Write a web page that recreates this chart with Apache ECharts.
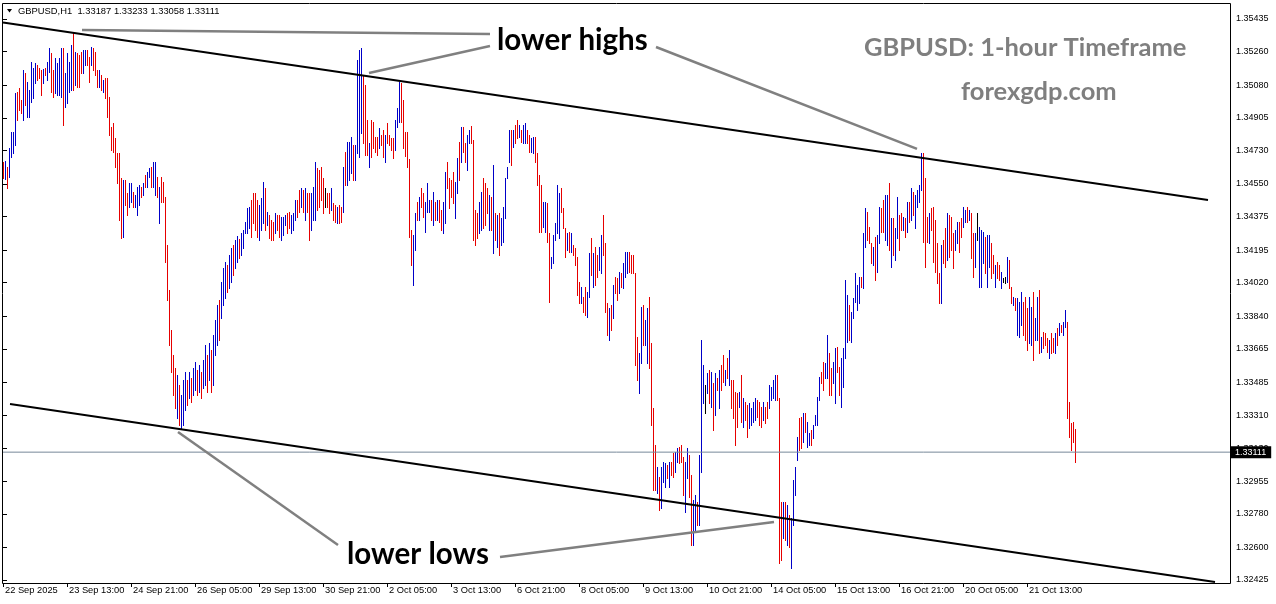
<!DOCTYPE html>
<html><head><meta charset="utf-8">
<script src="https://cdn.jsdelivr.net/npm/echarts@6/dist/echarts.min.js"></script>
<style>html,body{margin:0;padding:0;background:#fff}#c{width:1276px;height:604px}</style>
</head><body><div id="c"></div>
<script>
const symbolName = 'GBPUSD,H1';
const lastBar = [1.33187, 1.33233, 1.33058, 1.33111]; // open high low close
const barsPerLabel = 32;
const xTickLabels = ['22 Sep 2025','23 Sep 13:00','24 Sep 21:00','26 Sep 05:00','29 Sep 13:00','30 Sep 21:00','2 Oct 05:00','3 Oct 13:00','6 Oct 21:00','8 Oct 05:00','9 Oct 13:00','10 Oct 21:00','14 Oct 05:00','15 Oct 13:00','16 Oct 21:00','20 Oct 05:00','21 Oct 13:00'];
const yTickLabels = ['1.32425','1.32600','1.32780','1.32955','1.33130','1.33310','1.33485','1.33665','1.33840','1.34020','1.34195','1.34375','1.34550','1.34730','1.34905','1.35080','1.35260','1.35435'];

const highs = [1.34668,1.34673,1.34641,1.34743,1.34829,1.34829,1.35038,1.35043,1.35065,1.35000,
1.35161,1.35145,1.35097,1.35054,1.35204,1.35172,1.35199,1.35188,1.35172,1.35161,
1.35167,1.35172,1.35204,1.35280,1.35253,1.35161,1.35226,1.35199,1.35226,1.35280,
1.35280,1.35145,1.35253,1.35204,1.35296,1.35360,1.35258,1.35253,1.35242,1.35258,
1.35269,1.35269,1.35269,1.35231,1.35285,1.35280,1.35258,1.35161,1.35161,1.35135,
1.35108,1.35118,1.35118,1.35017,1.34855,1.34877,1.34797,1.34716,1.34716,1.34582,
1.34571,1.34571,1.34501,1.34555,1.34555,1.34507,1.34491,1.34534,1.34544,1.34534,
1.34555,1.34598,1.34614,1.34636,1.34641,1.34668,1.34668,1.34587,1.34534,1.34587,
1.34560,1.34480,1.34222,1.33981,1.33766,1.33632,1.33562,1.33525,1.33471,1.33418,
1.33498,1.33541,1.33498,1.33541,1.33509,1.33562,1.33595,1.33552,1.33579,1.33541,
1.33605,1.33686,1.33632,1.33697,1.33659,1.33740,1.33820,1.33901,1.33927,1.34024,
1.34099,1.34131,1.34115,1.34169,1.34206,1.34222,1.34249,1.34271,1.34255,1.34287,
1.34303,1.34346,1.34421,1.34426,1.34464,1.34501,1.34501,1.34464,1.34437,1.34475,
1.34560,1.34528,1.34400,1.34383,1.34357,1.34346,1.34394,1.34383,1.34383,1.34373,
1.34373,1.34383,1.34394,1.34400,1.34383,1.34394,1.34464,1.34464,1.34518,1.34528,
1.34518,1.34528,1.34501,1.34501,1.34501,1.34534,1.34668,1.34636,1.34625,1.34641,
1.34582,1.34528,1.34501,1.34501,1.34528,1.34448,1.34437,1.34426,1.34437,1.34426,
1.34641,1.34721,1.34775,1.34775,1.34802,1.34759,1.34759,1.35215,1.35269,1.35280,
1.35135,1.35081,1.34893,1.34770,1.34893,1.34882,1.34802,1.34802,1.34850,1.34813,
1.34840,1.34813,1.34877,1.34813,1.34797,1.34797,1.34893,1.34958,1.35097,1.35092,
1.35000,1.34829,1.34829,1.34684,1.34303,1.34276,1.34394,1.34453,1.34480,1.34528,
1.34501,1.34453,1.34555,1.34464,1.34464,1.34507,1.34453,1.34464,1.34464,1.34410,
1.34453,1.34614,1.34668,1.34582,1.34571,1.34614,1.34560,1.34689,1.34775,1.34856,
1.34856,1.34770,1.34813,1.34840,1.34861,1.34786,1.34410,1.34394,1.34453,1.34507,
1.34582,1.34555,1.34528,1.34491,1.34480,1.34652,1.34394,1.34383,1.34394,1.34367,
1.34426,1.34582,1.34641,1.34840,1.34840,1.34840,1.34866,1.34893,1.34866,1.34840,
1.34866,1.34877,1.34840,1.34813,1.34797,1.34802,1.34802,1.34716,1.34598,1.34544,
1.34453,1.34453,1.34448,1.34287,1.34158,1.34276,1.34340,1.34544,1.34501,1.34528,
1.34421,1.34314,1.34287,1.34292,1.34287,1.34222,1.34206,1.34158,1.34024,1.33997,
1.33943,1.33997,1.33970,1.34180,1.34260,1.34180,1.34212,1.34169,1.34212,1.34276,
1.34383,1.34233,1.33911,1.33884,1.33901,1.34008,1.34051,1.34045,1.34078,1.34072,
1.34126,1.34185,1.34185,1.34185,1.34169,1.34169,1.34072,1.33729,1.33643,1.33890,
1.33901,1.33820,1.33884,1.33943,1.33697,1.33348,1.33149,1.33031,1.32978,1.33031,
1.33058,1.33053,1.33042,1.33058,1.33058,1.33106,1.33112,1.33133,1.33139,1.33149,
1.33085,1.33058,1.33133,1.33096,1.32988,1.32854,1.32881,1.32844,1.33096,1.33713,
1.33579,1.33471,1.33536,1.33552,1.33541,1.33482,1.33536,1.33509,1.33552,1.33579,
1.33632,1.33552,1.33616,1.33659,1.33498,1.33498,1.33434,1.33428,1.33434,1.33525,
1.33402,1.33380,1.33364,1.33375,1.33348,1.33380,1.33402,1.33391,1.33380,1.33353,
1.33380,1.33353,1.33380,1.33471,1.33460,1.33498,1.33525,1.33525,1.33402,1.32844,
1.32844,1.32844,1.32827,1.32774,1.32758,1.32962,1.33031,1.33192,1.33294,1.33300,
1.33321,1.33321,1.33273,1.33214,1.33230,1.33257,1.33310,1.33407,1.33514,1.33541,
1.33595,1.33589,1.33740,1.33643,1.33562,1.33595,1.33670,1.33675,1.33568,1.33616,
1.33670,1.34035,1.33954,1.33901,1.33863,1.33938,1.34072,1.34008,1.34051,1.34051,
1.34287,1.34421,1.34400,1.34319,1.34233,1.34212,1.34265,1.34276,1.34426,1.34421,
1.34464,1.34491,1.34491,1.34555,1.34367,1.34367,1.34314,1.34480,1.34383,1.34394,
1.34373,1.34367,1.34453,1.34453,1.34528,1.34507,1.34491,1.34518,1.34544,1.34716,
1.34716,1.34582,1.34373,1.34394,1.34421,1.34426,1.34357,1.34233,1.34072,1.34222,
1.34249,1.34314,1.34394,1.34383,1.34373,1.34287,1.34303,1.34346,1.34346,1.34367,
1.34426,1.34410,1.34426,1.34410,1.34394,1.34287,1.34287,1.34394,1.34319,1.34303,
1.34292,1.34265,1.34276,1.34276,1.34233,1.34169,1.34115,1.34131,1.34115,1.34078,
1.34045,1.34051,1.34158,1.34142,1.33997,1.33943,1.33938,1.33938,1.33917,1.33970,
1.33917,1.33943,1.33884,1.33943,1.33890,1.33970,1.33831,1.33943,1.33981,1.33729,
1.33756,1.33750,1.33724,1.33713,1.33750,1.33724,1.33750,1.33777,1.33804,1.33793,
1.33809,1.33874,1.33809,1.33380,1.33267,1.33273,1.33233];

const lows = [1.34582,1.34577,1.34528,1.34587,1.34695,1.34716,1.34759,1.34893,1.34947,1.34931,
1.34893,1.34974,1.34909,1.34909,1.34990,1.35011,1.35092,1.35108,1.35118,1.35027,
1.35092,1.35135,1.35108,1.35151,1.35043,1.35017,1.35038,1.35027,1.35027,1.35017,
1.34866,1.34963,1.34984,1.35043,1.35054,1.35054,1.35081,1.35070,1.35070,1.35145,
1.35145,1.35188,1.35188,1.35097,1.35188,1.35161,1.35135,1.35070,1.35070,1.35054,
1.35043,1.35011,1.34909,1.34813,1.34732,1.34721,1.34641,1.34555,1.34357,1.34260,
1.34265,1.34437,1.34383,1.34426,1.34453,1.34426,1.34426,1.34383,1.34437,1.34480,
1.34491,1.34534,1.34534,1.34587,1.34534,1.34534,1.34491,1.34480,1.34340,1.34453,
1.34453,1.34131,1.33927,1.33686,1.33541,1.33418,1.33348,1.33294,1.33257,1.33241,
1.33257,1.33337,1.33364,1.33402,1.33380,1.33418,1.33445,1.33418,1.33434,1.33402,
1.33455,1.33471,1.33434,1.33498,1.33434,1.33471,1.33632,1.33686,1.33713,1.33831,
1.33901,1.33938,1.33970,1.33992,1.34024,1.34061,1.34099,1.34131,1.34153,1.34169,
1.34206,1.34287,1.34287,1.34314,1.34265,1.34340,1.34303,1.34265,1.34249,1.34303,
1.34340,1.34303,1.34330,1.34260,1.34249,1.34249,1.34287,1.34303,1.34265,1.34249,
1.34276,1.34330,1.34287,1.34314,1.34287,1.34303,1.34357,1.34373,1.34400,1.34426,
1.34400,1.34357,1.34400,1.34249,1.34303,1.34357,1.34357,1.34410,1.34426,1.34464,
1.34394,1.34426,1.34426,1.34394,1.34410,1.34357,1.34346,1.34340,1.34340,1.34346,
1.34400,1.34544,1.34544,1.34571,1.34609,1.34571,1.34571,1.34716,1.34695,1.34823,
1.34770,1.34705,1.34705,1.34641,1.34695,1.34743,1.34721,1.34705,1.34743,1.34759,
1.34695,1.34668,1.34770,1.34759,1.34732,1.34689,1.34732,1.34856,1.34882,1.34882,
1.34743,1.34700,1.34641,1.34265,1.34115,1.34008,1.34196,1.34357,1.34357,1.34426,
1.34373,1.34292,1.34400,1.34400,1.34357,1.34330,1.34357,1.34357,1.34346,1.34303,
1.34287,1.34340,1.34528,1.34421,1.34480,1.34448,1.34367,1.34501,1.34571,1.34668,
1.34721,1.34668,1.34625,1.34770,1.34770,1.34249,1.34222,1.34260,1.34287,1.34303,
1.34314,1.34330,1.34394,1.34303,1.34303,1.34180,1.34249,1.34212,1.34169,1.34222,
1.34239,1.34367,1.34582,1.34668,1.34652,1.34748,1.34770,1.34797,1.34802,1.34775,
1.34770,1.34770,1.34770,1.34721,1.34721,1.34716,1.34668,1.34544,1.34292,1.34292,
1.34319,1.34292,1.34239,1.33917,1.34099,1.34126,1.34249,1.34287,1.34260,1.34400,
1.34314,1.34158,1.34196,1.34185,1.34185,1.34169,1.34115,1.33954,1.33911,1.33911,
1.33863,1.33847,1.33836,1.33943,1.34061,1.33997,1.34008,1.34051,1.34088,1.34072,
1.34169,1.33863,1.33740,1.33713,1.33766,1.33831,1.33965,1.33927,1.33965,1.33997,
1.33992,1.34051,1.34072,1.34078,1.34072,1.34072,1.33579,1.33498,1.33428,1.33589,
1.33686,1.33686,1.33589,1.33562,1.33257,1.32908,1.32908,1.32892,1.32801,1.32811,
1.32951,1.32924,1.32972,1.32924,1.32988,1.32978,1.33005,1.33058,1.33053,1.33058,
1.32881,1.32790,1.32972,1.32870,1.32613,1.32613,1.32683,1.32720,1.32720,1.33005,
1.33375,1.33321,1.33428,1.33375,1.33353,1.33230,1.33310,1.33445,1.33348,1.33445,
1.33487,1.33471,1.33509,1.33471,1.33348,1.33294,1.33149,1.33246,1.33353,1.33273,
1.33246,1.33284,1.33192,1.33241,1.33257,1.33273,1.33284,1.33300,1.33257,1.33246,
1.33284,1.33267,1.33294,1.33348,1.33391,1.33402,1.33391,1.33391,1.32516,1.32532,
1.32650,1.32640,1.32613,1.32602,1.32489,1.32720,1.32881,1.33069,1.33123,1.33133,
1.33165,1.33219,1.33139,1.33149,1.33149,1.33187,1.33257,1.33257,1.33391,1.33482,
1.33445,1.33509,1.33509,1.33418,1.33418,1.33482,1.33375,1.33541,1.33418,1.33353,
1.33460,1.33616,1.33702,1.33713,1.33702,1.33831,1.33917,1.33874,1.33911,1.33997,
1.33992,1.34212,1.34249,1.34233,1.34126,1.34115,1.34035,1.34078,1.34233,1.34292,
1.34292,1.34249,1.34222,1.34196,1.34104,1.34169,1.34142,1.34260,1.34196,1.34303,
1.34303,1.34265,1.34292,1.34346,1.34357,1.34383,1.34314,1.34426,1.34453,1.34518,
1.34239,1.34104,1.34239,1.34233,1.34303,1.34131,1.34078,1.34019,1.33911,1.33911,
1.34126,1.34104,1.34142,1.34158,1.34196,1.34099,1.34196,1.34233,1.34185,1.34265,
1.34319,1.34346,1.34346,1.34357,1.34153,1.34051,1.34104,1.34249,1.33997,1.33997,
1.34126,1.34072,1.33997,1.34104,1.34045,1.34072,1.33997,1.34045,1.34035,1.33992,
1.34024,1.34019,1.34024,1.33992,1.33911,1.33901,1.33874,1.33740,1.33729,1.33793,
1.33740,1.33713,1.33659,1.33697,1.33686,1.33605,1.33713,1.33713,1.33643,1.33648,
1.33670,1.33686,1.33648,1.33616,1.33643,1.33648,1.33643,1.33686,1.33740,1.33756,
1.33740,1.33783,1.33294,1.33192,1.33123,1.33165,1.33058];

// bar direction: u = up (blue), d = down (red), n = unchanged (black)
const dirs = ['duduuuuddd','uduuuuuddd','uduudduuuu','duuuududdd','uuddudddud','uddddddddd','udduuduuud','uduuduudud','dddddddudu','uududuudud',
'uududuuudu','uuduuduudu','uuuudddduu','ududdduddu','uudduuuddu','dudduuuddd','dndduddudd','uduuuduuuu','ddduddddud','dudddduuud',
'ddddduudud','duuudududd','uudddduudu','dduudddduu','dddudududu','uuuududdud','uudduudddd','uudduuuuud','ddududdddu','dduududduu',
'dddududdud','uuuddddduu','duuddddudu','uududduudd','duudduuduu','unudududud','dududdddud','udduuuuddd','udduuuuddd','ududuuuudd',
'uduuduuuud','duudduuddu','uuuduuuuud','uuddduduud','duududuudd','udududuuuu','dddudddddu','dduddduudd','uududdunuu','uduudduddu',
'nnudduduuu','ddduuduudu','ddduddudud','uuddddd'].join('');

// trend lines and annotation connectors, in [bar index, price]
const upperTrend = [[0, 1.35416], [602.5, 1.34464]];
const lowerTrend = [[3.5, 1.33369], [606, 1.32414]];
const highLinks = [
  [[39.5, 1.35376], [243.5, 1.35355]],
  [[183, 1.35145], [243.5, 1.35290]],
  [[326.5, 1.35285], [457, 1.34738]]
];
const lowLinks = [
  [[87.5, 1.33219], [167.5, 1.32613]],
  [[248.5, 1.32548], [385.5, 1.32736]]
];
const xMin = 0, xMax = 613.5;

const UP = '#0000c8', DN = '#e60000', FLAT = '#000000';
const barData = highs.map((h, i) => [i, h, lows[i], dirs[i] === 'u' ? 1 : (dirs[i] === 'd' ? -1 : 0)]);
const xTickVals = xTickLabels.map((_, k) => k * barsPerLabel);
const yTickVals = yTickLabels.map(Number);

const chart = echarts.init(document.getElementById('c'), null, {renderer: 'canvas'});
const lineSeries = (pts, color, width) => ({
  type: 'line', data: pts, symbol: 'none', silent: true, z: 5, animation: false,
  lineStyle: {color: color, width: width, cap: 'butt'}
});
const bidSeries = lineSeries([[xMin, lastBar[3]], [xMax, lastBar[3]]], '#778899', 1);
bidSeries.z = 3;
bidSeries.endLabel = {
  show: true, distance: 1, formatter: lastBar[3].toFixed(5),
  backgroundColor: '#000', color: '#fff', padding: [2, 5, 1, 4],
  fontFamily: 'Liberation Sans', fontSize: 9
};
const series = [{
  type: 'custom',
  z: 2,
  data: barData,
  dimensions: ['i', 'high', 'low', 'dir'],
  encode: {x: 0, y: [1, 2]},
  renderItem: function (params, api) {
    const i = api.value(0);
    const t = api.coord([i, api.value(1)]);
    const b = api.coord([i, api.value(2)]);
    const d = api.value(3);
    const x = Math.round(t[0]);
    const y1 = Math.round(t[1]);
    const y2 = Math.round(b[1]);
    return {type: 'rect', shape: {x: x, y: y1, width: 1, height: Math.max(1, y2 - y1 + 1)},
      style: {fill: d > 0 ? UP : (d < 0 ? DN : FLAT)}};
  }
},
  bidSeries,
  lineSeries(upperTrend, '#000', 2),
  lineSeries(lowerTrend, '#000', 2)
];
highLinks.concat(lowLinks).forEach(p => series.push(lineSeries(p, '#808080', 2.5)));

chart.setOption({
  animation: false,
  backgroundColor: '#fff',
  grid: {left: 3, right: 46, top: 3, bottom: 21, containLabel: false, outerBoundsMode: 'none'},
  xAxis: {
    type: 'value', min: xMin, max: xMax,
    axisLine: {show: false}, splitLine: {show: false},
    axisTick: {show: true, length: 4, customValues: xTickVals, lineStyle: {color: '#000'}},
    axisLabel: {customValues: xTickVals, formatter: v => xTickLabels[Math.round(v / barsPerLabel)] || '',
      align: 'left', margin: 3, padding: [0, 0, 0, 2], fontFamily: 'Liberation Sans', fontSize: 9.3, color: '#000'}
  },
  yAxis: {
    type: 'value', position: 'right', min: 1.324089, max: 1.355209,
    axisLine: {show: false}, splitLine: {show: false},
    axisTick: {show: true, length: 4, customValues: yTickVals, lineStyle: {color: '#000'}},
    axisLabel: {customValues: yTickVals, formatter: v => v.toFixed(5), margin: 6,
      fontFamily: 'Liberation Sans', fontSize: 9, color: '#000'}
  },
  graphic: [
    {type: 'rect', silent: true, z: 100, shape: {x: 2.5, y: 3.5, width: 1228, height: 580},
      style: {fill: null, stroke: '#000', lineWidth: 1}},
    {type: 'polygon', silent: true, z: 100, shape: {points: [[7, 9], [12, 9], [9.5, 12.5]]}, style: {fill: '#000'}},
    {type: 'text', silent: true, z: 100, x: 18, y: 11,
      style: {text: symbolName + '  ' + lastBar.map(v => v.toFixed(5)).join(' '), font: '9.4px "Liberation Sans"', fill: '#000', align: 'left', verticalAlign: 'middle'}},
    {type: 'text', silent: true, z: 100, x: 497, y: 40,
      style: {text: 'lower highs', font: 'bold 29.5px Lato', fill: '#000', align: 'left', verticalAlign: 'middle'}},
    {type: 'text', silent: true, z: 100, x: 347, y: 554,
      style: {text: 'lower lows', font: 'bold 29.5px Lato', fill: '#000', align: 'left', verticalAlign: 'middle'}},
    {type: 'text', silent: true, z: 100, x: 864, y: 48,
      style: {text: 'GBPUSD: 1-hour Timeframe', font: 'bold 25.5px Lato', fill: '#7f7f7f', align: 'left', verticalAlign: 'middle'}},
    {type: 'text', silent: true, z: 100, x: 961, y: 92,
      style: {text: 'forexgdp.com', font: 'bold 25.5px Lato', fill: '#7f7f7f', align: 'left', verticalAlign: 'middle'}}
  ],
  series: series
});
</script>
</body></html>
